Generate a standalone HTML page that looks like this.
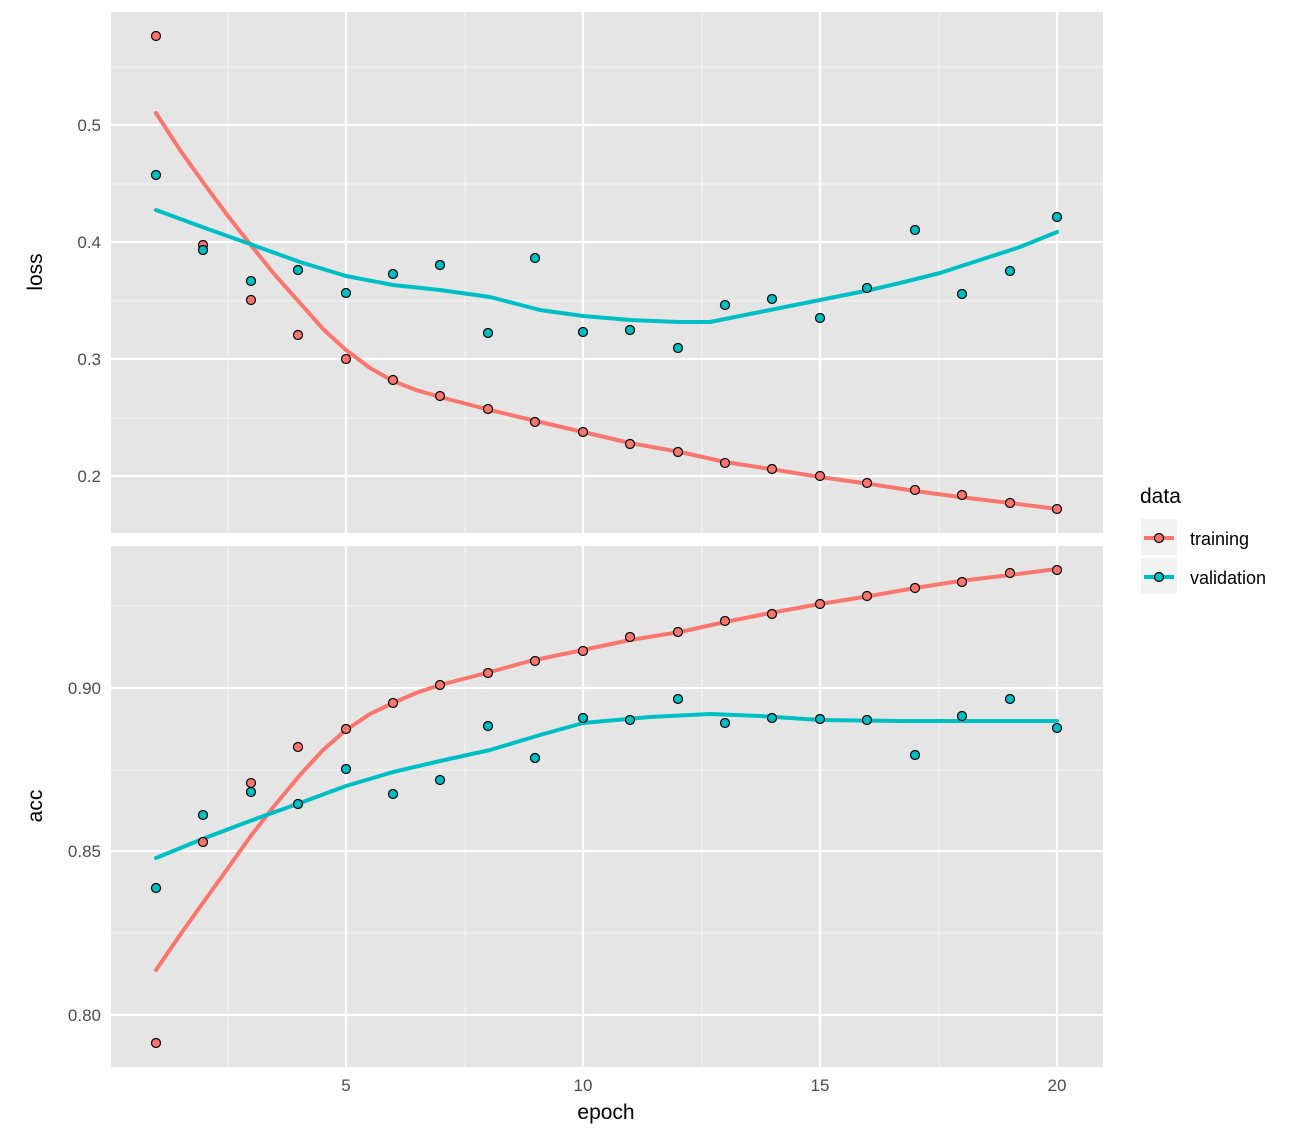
<!DOCTYPE html><html><head><style>body{margin:0;background:#fff}svg{display:block;font-family:"Liberation Sans",sans-serif}</style></head><body>
<svg width="1300" height="1138" xmlns="http://www.w3.org/2000/svg">
<rect x="111" y="12" width="992" height="521" fill="#e5e5e5"/>
<rect x="111" y="546" width="992" height="521" fill="#e5e5e5"/>
<g stroke="#f2f2f2" stroke-width="1.2">
<line x1="228" y1="12" x2="228" y2="533"/><line x1="465" y1="12" x2="465" y2="533"/><line x1="702" y1="12" x2="702" y2="533"/><line x1="939" y1="12" x2="939" y2="533"/>
<line x1="228" y1="546" x2="228" y2="1067"/><line x1="465" y1="546" x2="465" y2="1067"/><line x1="702" y1="546" x2="702" y2="1067"/><line x1="939" y1="546" x2="939" y2="1067"/>
<line x1="111" y1="67" x2="1103" y2="67"/><line x1="111" y1="184" x2="1103" y2="184"/><line x1="111" y1="301" x2="1103" y2="301"/><line x1="111" y1="418" x2="1103" y2="418"/>
<line x1="111" y1="606" x2="1103" y2="606"/><line x1="111" y1="770" x2="1103" y2="770"/><line x1="111" y1="933" x2="1103" y2="933"/>
</g>
<g stroke="#fff" stroke-width="2.2">
<line x1="346" y1="12" x2="346" y2="533"/><line x1="583" y1="12" x2="583" y2="533"/><line x1="820" y1="12" x2="820" y2="533"/><line x1="1057" y1="12" x2="1057" y2="533"/>
<line x1="346" y1="546" x2="346" y2="1067"/><line x1="583" y1="546" x2="583" y2="1067"/><line x1="820" y1="546" x2="820" y2="1067"/><line x1="1057" y1="546" x2="1057" y2="1067"/>
<line x1="111" y1="125" x2="1103" y2="125"/><line x1="111" y1="242" x2="1103" y2="242"/><line x1="111" y1="359" x2="1103" y2="359"/><line x1="111" y1="476" x2="1103" y2="476"/>
<line x1="111" y1="688" x2="1103" y2="688"/><line x1="111" y1="851" x2="1103" y2="851"/><line x1="111" y1="1015" x2="1103" y2="1015"/>
</g>
<g fill="none" stroke-width="4" stroke-linejoin="round" stroke-linecap="round">
<polyline stroke="#f8766d" points="156,113 180,150 205,185 228,216 250,244 275,275 300,303 323,329 346,350 370,368 393,381 416,390 440,397 490,410 540,422 583,432 630,443 680,452 725,462 770,469 820,477 870,484 915,491 960,497 1010,503 1057,509"/>
<polyline stroke="#00bfc4" points="156,210 205,228 250,244 300,262 346,276 393,285 440,290 490,297 540,310 583,316 630,320 680,322 710,322 760,312 820,300 870,290 900,283 940,273 980,260 1020,247 1057,232"/>
<polyline stroke="#f8766d" points="156,970 180,935 205,900 228,868 250,837 275,805 300,775 323,750 346,730 370,714 393,703 416,693 440,685 490,672 530,661 583,650 630,640 680,632 725,622 770,613 820,604 870,596 915,588 960,581 1010,575 1057,569"/>
<polyline stroke="#00bfc4" points="156,858 205,838 250,821 300,803 346,786 393,772 440,761 490,750 540,735 583,723 650,717 710,714 760,716 820,720 900,721 1057,721"/>
</g>
<g stroke="#000" stroke-width="1.2">
<g fill="#f8766d">
<circle cx="156" cy="36" r="4.5"/><circle cx="203" cy="245" r="4.5"/><circle cx="251" cy="300" r="4.5"/><circle cx="298" cy="335" r="4.5"/><circle cx="346" cy="359" r="4.5"/><circle cx="393" cy="380" r="4.5"/><circle cx="440" cy="396" r="4.5"/><circle cx="488" cy="409" r="4.5"/><circle cx="535" cy="422" r="4.5"/><circle cx="583" cy="432" r="4.5"/><circle cx="630" cy="444" r="4.5"/><circle cx="678" cy="452" r="4.5"/><circle cx="725" cy="463" r="4.5"/><circle cx="772" cy="469" r="4.5"/><circle cx="820" cy="476" r="4.5"/><circle cx="867" cy="483" r="4.5"/><circle cx="915" cy="490" r="4.5"/><circle cx="962" cy="495" r="4.5"/><circle cx="1010" cy="503" r="4.5"/><circle cx="1057" cy="509" r="4.5"/>
<circle cx="156" cy="1043" r="4.5"/><circle cx="203" cy="842" r="4.5"/><circle cx="251" cy="783" r="4.5"/><circle cx="298" cy="747" r="4.5"/><circle cx="346" cy="729" r="4.5"/><circle cx="393" cy="703" r="4.5"/><circle cx="440" cy="685" r="4.5"/><circle cx="488" cy="673" r="4.5"/><circle cx="535" cy="661" r="4.5"/><circle cx="583" cy="651" r="4.5"/><circle cx="630" cy="637" r="4.5"/><circle cx="678" cy="632" r="4.5"/><circle cx="725" cy="621" r="4.5"/><circle cx="772" cy="614" r="4.5"/><circle cx="820" cy="604" r="4.5"/><circle cx="867" cy="596" r="4.5"/><circle cx="915" cy="588" r="4.5"/><circle cx="962" cy="582" r="4.5"/><circle cx="1010" cy="573" r="4.5"/><circle cx="1057" cy="570" r="4.5"/>
</g>
<g fill="#00bfc4">
<circle cx="156" cy="175" r="4.5"/><circle cx="203" cy="250" r="4.5"/><circle cx="251" cy="281" r="4.5"/><circle cx="298" cy="270" r="4.5"/><circle cx="346" cy="293" r="4.5"/><circle cx="393" cy="274" r="4.5"/><circle cx="440" cy="265" r="4.5"/><circle cx="488" cy="333" r="4.5"/><circle cx="535" cy="258" r="4.5"/><circle cx="583" cy="332" r="4.5"/><circle cx="630" cy="330" r="4.5"/><circle cx="678" cy="348" r="4.5"/><circle cx="725" cy="305" r="4.5"/><circle cx="772" cy="299" r="4.5"/><circle cx="820" cy="318" r="4.5"/><circle cx="867" cy="288" r="4.5"/><circle cx="915" cy="230" r="4.5"/><circle cx="962" cy="294" r="4.5"/><circle cx="1010" cy="271" r="4.5"/><circle cx="1057" cy="217" r="4.5"/>
<circle cx="156" cy="888" r="4.5"/><circle cx="203" cy="815" r="4.5"/><circle cx="251" cy="792" r="4.5"/><circle cx="298" cy="804" r="4.5"/><circle cx="346" cy="769" r="4.5"/><circle cx="393" cy="794" r="4.5"/><circle cx="440" cy="780" r="4.5"/><circle cx="488" cy="726" r="4.5"/><circle cx="535" cy="758" r="4.5"/><circle cx="583" cy="718" r="4.5"/><circle cx="630" cy="720" r="4.5"/><circle cx="678" cy="699" r="4.5"/><circle cx="725" cy="723" r="4.5"/><circle cx="772" cy="718" r="4.5"/><circle cx="820" cy="719" r="4.5"/><circle cx="867" cy="720" r="4.5"/><circle cx="915" cy="755" r="4.5"/><circle cx="962" cy="716" r="4.5"/><circle cx="1010" cy="699" r="4.5"/><circle cx="1057" cy="728" r="4.5"/>
</g></g>
<g fill="#4d4d4d" font-size="17" text-anchor="end">
<text x="101" y="131">0.5</text><text x="101" y="248">0.4</text><text x="101" y="365">0.3</text><text x="101" y="482">0.2</text>
<text x="101" y="694">0.90</text><text x="101" y="857">0.85</text><text x="101" y="1021">0.80</text>
</g>
<g fill="#4d4d4d" font-size="17" text-anchor="middle">
<text x="346" y="1091">5</text><text x="583" y="1091">10</text><text x="820" y="1091">15</text><text x="1057" y="1091">20</text>
</g>
<g font-size="21" fill="#000" text-anchor="middle">
<text x="606" y="1119">epoch</text>
<text transform="translate(42,272) rotate(-90)">loss</text>
<text transform="translate(42,806) rotate(-90)">acc</text>
</g>
<text x="1140" y="503" font-size="21">data</text>
<rect x="1141" y="519" width="36" height="36" fill="#f2f2f2"/>
<rect x="1141" y="558" width="36" height="36" fill="#f2f2f2"/>
<line x1="1144" y1="538" x2="1174" y2="538" stroke="#f8766d" stroke-width="4"/>
<line x1="1144" y1="577" x2="1174" y2="577" stroke="#00bfc4" stroke-width="4"/>
<circle cx="1159" cy="538" r="4.5" fill="#f8766d" stroke="#000" stroke-width="1.2"/>
<circle cx="1159" cy="577" r="4.5" fill="#00bfc4" stroke="#000" stroke-width="1.2"/>
<text x="1190" y="545" font-size="18" fill="#000">training</text>
<text x="1190" y="584" font-size="18" fill="#000">validation</text>
</svg></body></html>
